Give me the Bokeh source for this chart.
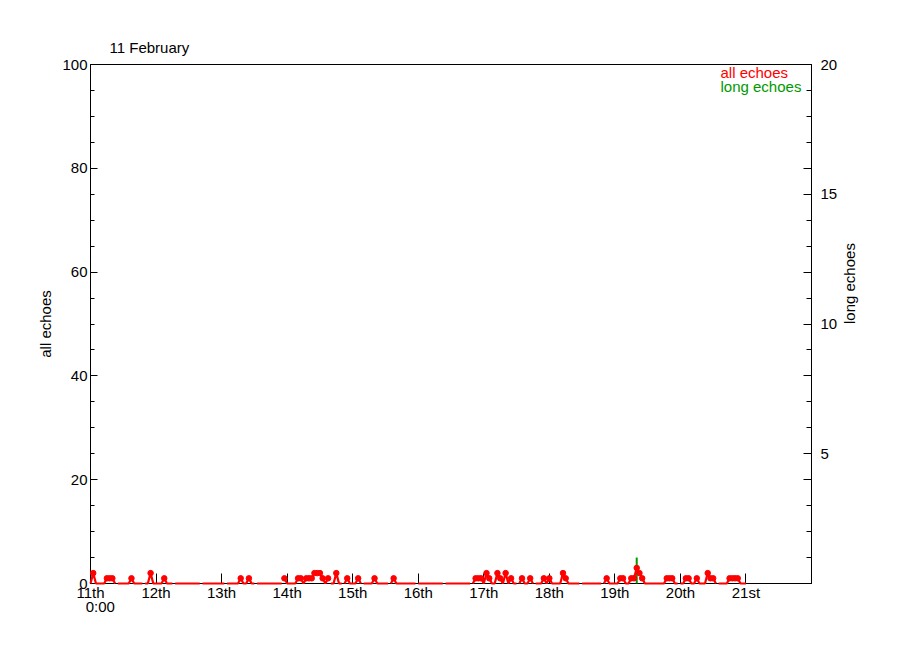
import math
from bokeh.plotting import figure
from bokeh.models import Range1d, LinearAxis, FixedTicker, Label, Title
from bokeh.embed import file_html
from bokeh.resources import INLINE

# ---------------- data ----------------
title_text = "11 February"
day_tick_values = [0, 1, 2, 3, 4, 5, 6, 7, 8, 9, 10]
day_tick_labels = ["11th", "12th", "13th", "14th", "15th", "16th",
                   "17th", "18th", "19th", "20th", "21st"]
first_tick_time = "0:00"
left_ticks = [0, 20, 40, 60, 80, 100]
left_minor_ticks = list(range(0, 101, 5))
right_label_ticks = [5, 10, 15, 20]
right_long_ticks = [0, 4, 8, 12, 16, 20]
right_minor_ticks = list(range(0, 21))

# hourly counts of all echoes, one row per day (hour 0..23)
all_day11 = [0, 2, 0, 0, 0, 0, 1, 1, 1, 0, 0, 0, 0, 0, 0, 1, 0, 0, 0, 0, 0, 0, 2, 0]
all_day12 = [0, 0, 0, 1, 0, 0, 0, 0, 0, 0, 0, 0, 0, 0, 0, 0, 0, 0, 0, 0, 0, 0, 0, 0]
all_day13 = [0, 0, 0, 0, 0, 0, 0, 1, 0, 0, 1, 0, 0, 0, 0, 0, 0, 0, 0, 0, 0, 0, 0, 1]
all_day14 = [0, 0, 0, 0, 1, 1, 0, 1, 1, 1, 2, 2, 2, 1, 0, 1, 0, 0, 2, 0, 0, 0, 1, 0]
all_day15 = [0, 0, 1, 0, 0, 0, 0, 0, 1, 0, 0, 0, 0, 0, 0, 1, 0, 0, 0, 0, 0, 0, 0, 0]
all_day16 = [0, 0, 0, 0, 0, 0, 0, 0, 0, 0, 0, 0, 0, 0, 0, 0, 0, 0, 0, 0, 0, 1, 1, 1]
all_day17 = [0, 2, 1, 0, 0, 2, 1, 0, 2, 0, 1, 0, 0, 0, 1, 0, 0, 1, 0, 0, 0, 0, 1, 0]
all_day18 = [1, 0, 0, 0, 0, 2, 1, 0, 0, 0, 0, 0, 0, 0, 0, 0, 0, 0, 0, 0, 0, 1, 0, 0]
all_day19 = [0, 0, 1, 1, 0, 0, 1, 1, 3, 2, 1, 0, 0, 0, 0, 0, 0, 0, 0, 1, 1, 1, 0, 0]
all_day20 = [0, 0, 1, 1, 0, 0, 1, 0, 0, 0, 2, 1, 1, 0, 0, 0, 0, 0, 1, 1, 1, 1, 0, 0]
all_end = [0]
# hours after which the record has a short data gap
gap_after_hours = [9, 19, 30, 40, 49, 60, 70, 87, 92, 99, 109, 119, 129, 139,
                   156, 162, 179, 187, 215, 229]

# long echoes (hour since 11th 0:00, count)
long_hours = [200]
long_values = [1]

RED = "#ff0000"
GREEN = "#009900"
FONT = "Liberation Sans"
FS = "15px"

# ---------------- build series ----------------
hourly = (all_day11 + all_day12 + all_day13 + all_day14 + all_day15 +
          all_day16 + all_day17 + all_day18 + all_day19 + all_day20 + all_end)
line_x, line_y = [], []
for h, v in enumerate(hourly):
    line_x.append(h / 24.0)
    line_y.append(v)
    if h in gap_after_hours:
        line_x.append((h + 0.5) / 24.0)
        line_y.append(float("nan"))
dot_x = [h / 24.0 for h, v in enumerate(hourly) if v > 0]
dot_y = [v for v in hourly if v > 0]
long_x = [h / 24.0 for h in long_hours]
long_zero = [0 for _ in long_values]

# ---------------- figure ----------------
p = figure(frame_width=721, frame_height=519,
           min_border_left=90, min_border_right=81,
           min_border_top=64, min_border_bottom=58,
           x_range=Range1d(0, 11), y_range=Range1d(0, 100),
           output_backend="svg", toolbar_location=None,
           background_fill_color="white", border_fill_color="white")
p.extra_y_ranges = {"long": Range1d(0, 20)}
p.xgrid.visible = False
p.ygrid.visible = False
p.outline_line_color = "black"
p.outline_line_width = 1

p.add_layout(Title(text=title_text, align="left", offset=19, standoff=17,
                   text_font=FONT, text_font_size=FS,
                   text_font_style="normal", text_color="black"), "above")

# bottom axis
xa = p.xaxis[0]
xa.ticker = FixedTicker(ticks=day_tick_values, minor_ticks=[])
xa.major_label_overrides = {t: lab for t, lab in zip(day_tick_values, day_tick_labels)}
xa.major_tick_in = 10
xa.major_tick_out = 0
xa.minor_tick_line_color = None
xa.major_label_standoff = 0
xa.major_label_text_font = FONT
xa.major_label_text_font_size = FS
xa.major_label_text_color = "black"
xa.axis_line_color = "black"
xa.major_tick_line_color = "black"

# second line under the first day label ("0:00")
xa2 = LinearAxis(ticker=FixedTicker(ticks=[0.15], minor_ticks=[]),
                 major_label_overrides={0.15: first_tick_time})
xa2.axis_line_color = None
xa2.major_tick_line_color = None
xa2.minor_tick_line_color = None
xa2.major_tick_in = 0
xa2.major_tick_out = 0
xa2.major_label_standoff = -6
xa2.major_label_text_font = FONT
xa2.major_label_text_font_size = FS
xa2.major_label_text_color = "black"
p.add_layout(xa2, "below")

# left axis
ya = p.yaxis[0]
ya.ticker = FixedTicker(ticks=left_ticks, minor_ticks=left_minor_ticks)
ya.major_tick_in = 7
ya.major_tick_out = 0
ya.minor_tick_in = 4
ya.minor_tick_out = 0
ya.major_label_standoff = 3
ya.major_label_text_font = FONT
ya.major_label_text_font_size = FS
ya.major_label_text_color = "black"
ya.axis_label = "all echoes"
ya.axis_label_text_font = FONT
ya.axis_label_text_font_size = FS
ya.axis_label_text_font_style = "normal"
ya.axis_label_text_color = "black"
ya.axis_label_standoff = 5
ya.axis_line_color = "black"

# right axis
r_major = sorted(set(right_label_ticks + right_long_ticks))
ra = LinearAxis(y_range_name="long",
                ticker=FixedTicker(ticks=r_major, minor_ticks=right_minor_ticks),
                major_label_overrides={t: ("" if t not in right_label_ticks else str(t))
                                       for t in r_major},
                axis_label="long echoes")
ra.major_tick_in = 8
ra.major_tick_out = 0
ra.minor_tick_in = 5
ra.minor_tick_out = 0
ra.major_label_standoff = 9
ra.major_label_text_font = FONT
ra.major_label_text_font_size = FS
ra.major_label_text_color = "black"
ra.axis_label_text_font = FONT
ra.axis_label_text_font_size = FS
ra.axis_label_text_font_style = "normal"
ra.axis_label_text_color = "black"
ra.axis_label_standoff = 9
ra.axis_label_orientation = math.pi / 2
p.add_layout(ra, "right")

# data
p.segment(x0=long_x, y0=long_zero, x1=long_x, y1=long_values, y_range_name="long",
          line_color=GREEN, line_width=2, level="overlay")
p.line(line_x, line_y, line_color=RED, line_width=2.2, level="overlay")
p.scatter(dot_x, dot_y, size=5.5, fill_color=RED, line_color=RED, level="overlay")

# legend texts
p.add_layout(Label(x=11, y=100, text="all echoes", x_offset=-91, y_offset=-8,
                   text_baseline="middle", text_align="left",
                   text_font=FONT, text_font_size=FS, text_color=RED))
p.add_layout(Label(x=11, y=100, text="long echoes", x_offset=-91, y_offset=-22,
                   text_baseline="middle", text_align="left",
                   text_font=FONT, text_font_size=FS, text_color=GREEN))

open("out.html", "w").write(file_html(p, INLINE))
